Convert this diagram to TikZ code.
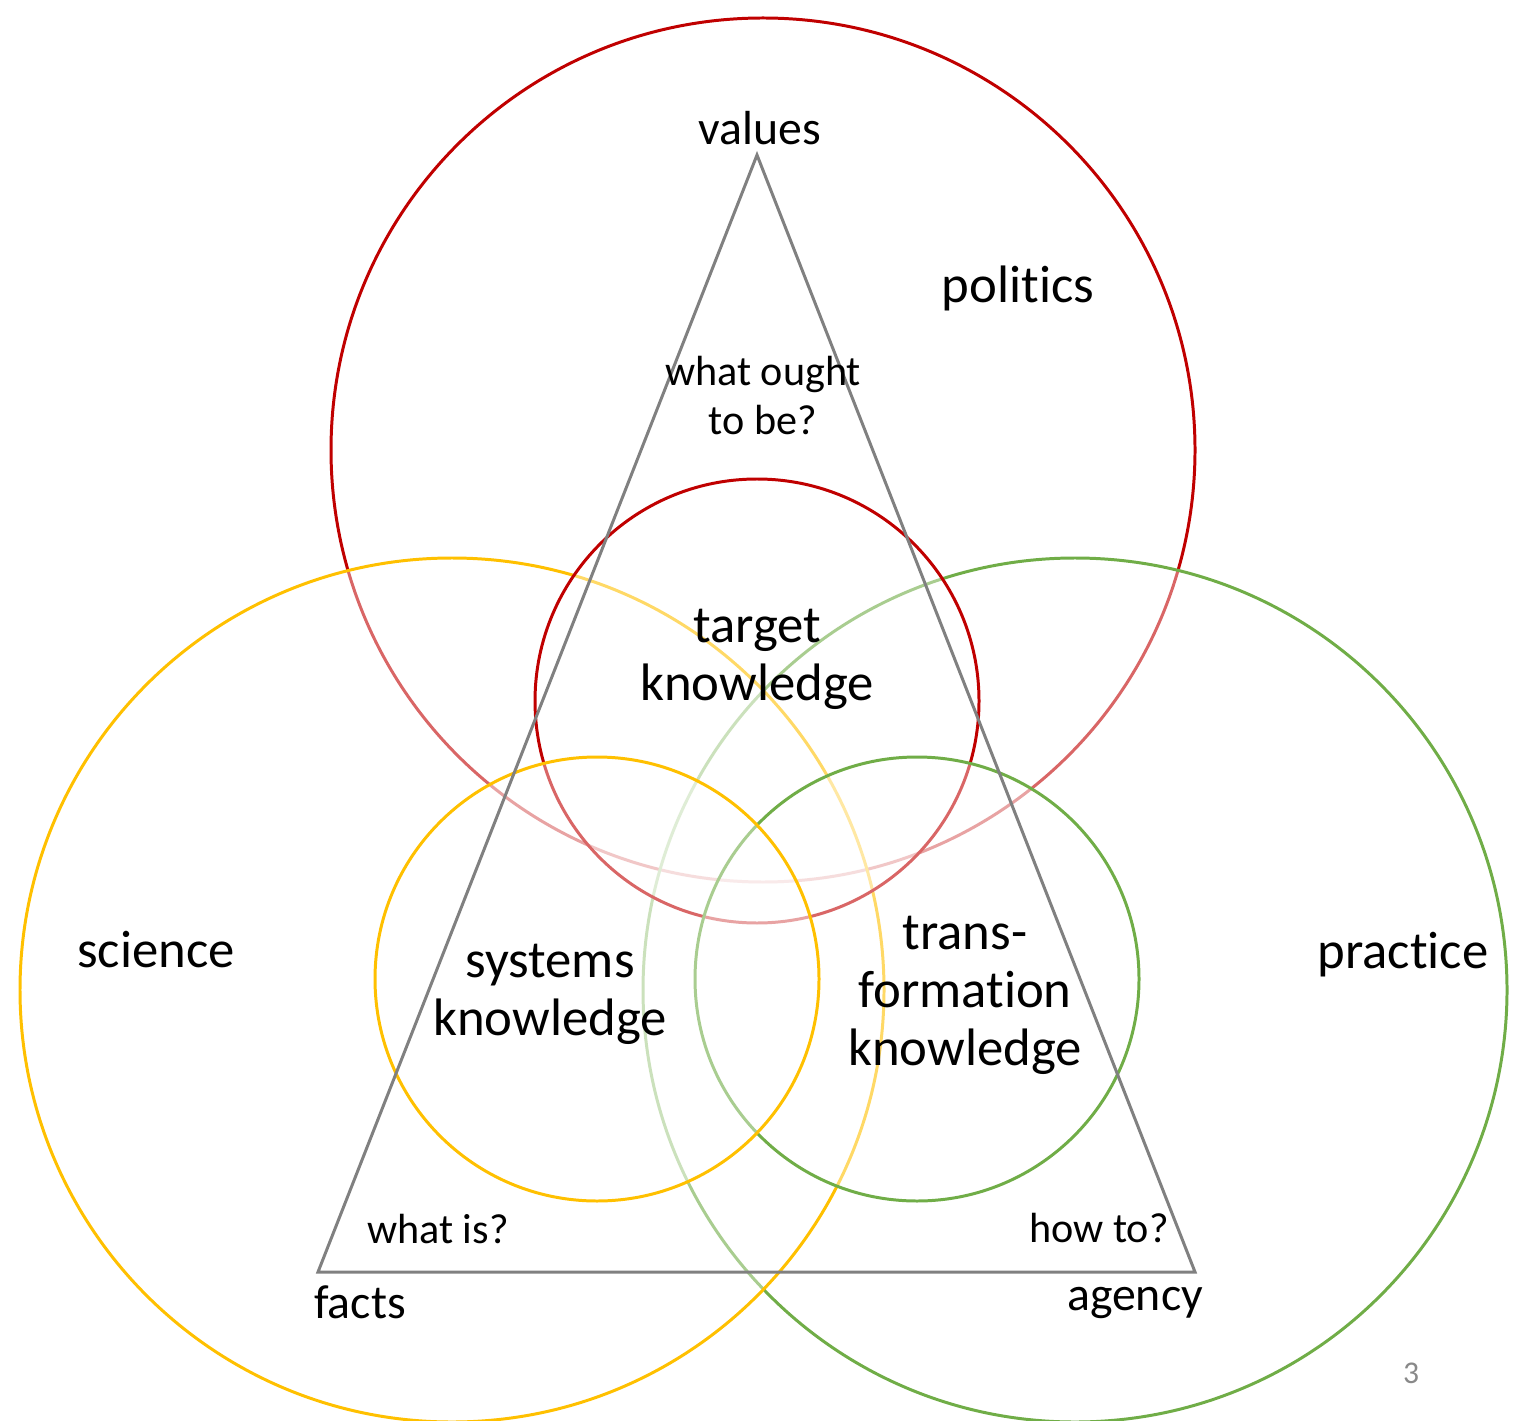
\documentclass[tikz,border=0pt]{standalone}
\usepackage{fontspec}
\setmainfont{Carlito}[Ligatures=NoCommon]
\usetikzlibrary{positioning}

\definecolor{polred}{HTML}{C00000}
\definecolor{sciyellow}{HTML}{FFC000}
\definecolor{pracgreen}{HTML}{70AD47}
\definecolor{trigray}{HTML}{808080}
\definecolor{numgray}{HTML}{898989}

\begin{document}
\begin{tikzpicture}[
  x=0.1mm, y=-0.1mm, % one unit per pixel, y running downwards
  ring/.style={draw=#1, line width=0.85pt, fill=white, fill opacity=0.4},
  bigtext/.style={font=\fontsize{15}{16.5}\selectfont, align=center, inner sep=0pt, anchor=base},
  cornertext/.style={font=\fontsize{13.6}{15}\selectfont, inner sep=0pt, anchor=base},
  smalltext/.style={font=\fontsize{12}{14.2}\selectfont, align=center, inner sep=0pt, anchor=base}
]
  \useasboundingbox (0,0) rectangle (1524,1420);

  % outer circles: politics, practice, science
  \draw[ring=polred]    (763,450)  circle[radius=432];
  \draw[ring=pracgreen] (1075,990) circle[radius=432];
  \draw[ring=sciyellow] (452,990)  circle[radius=432];

  % inner circles: target, transformation, systems knowledge
  \draw[ring=polred]    (757,701) circle[radius=222];
  \draw[ring=pracgreen] (917,979) circle[radius=222];
  \draw[ring=sciyellow] (597,979) circle[radius=222];

  % triangle values / facts / agency
  \coordinate (top)   at (757,155);
  \coordinate (left)  at (318,1272);
  \coordinate (right) at (1195,1272);
  \draw[trigray, line width=0.85pt] (top) -- (left) -- (right) -- cycle;

  % labels (base = baseline of the last line)
  \node[cornertext] (values) at (760,145)  {values};
  \node[bigtext] (politics)  at (1018,303) {politics};
  \node[smalltext] (ought)   at (763,435)  {what ought\\to be?};
  \node[bigtext] (target)    at (757,700)  {target\\knowledge};
  \node[bigtext] (science)   at (156,967)  {science};
  \node[bigtext] (practice)  at (1403,968) {practice};
  \node[bigtext] (systems)   at (550,1035) {systems\\knowledge};
  \node[bigtext] (trans)     at (965,1065) {trans-\\formation\\knowledge};
  \node[smalltext] (whatis)  at (438,1243) {what is?};
  \node[smalltext] (howto)   at (1099,1242) {how to?};
  \node[cornertext] (facts)  at (360,1318) {facts};
  \node[cornertext] (agency) at (1135,1310) {agency};

  \node[font=\fontsize{9}{10}\selectfont, text=numgray, anchor=base] (pagenum) at (1411,1383) {3};
\end{tikzpicture}
\end{document}
